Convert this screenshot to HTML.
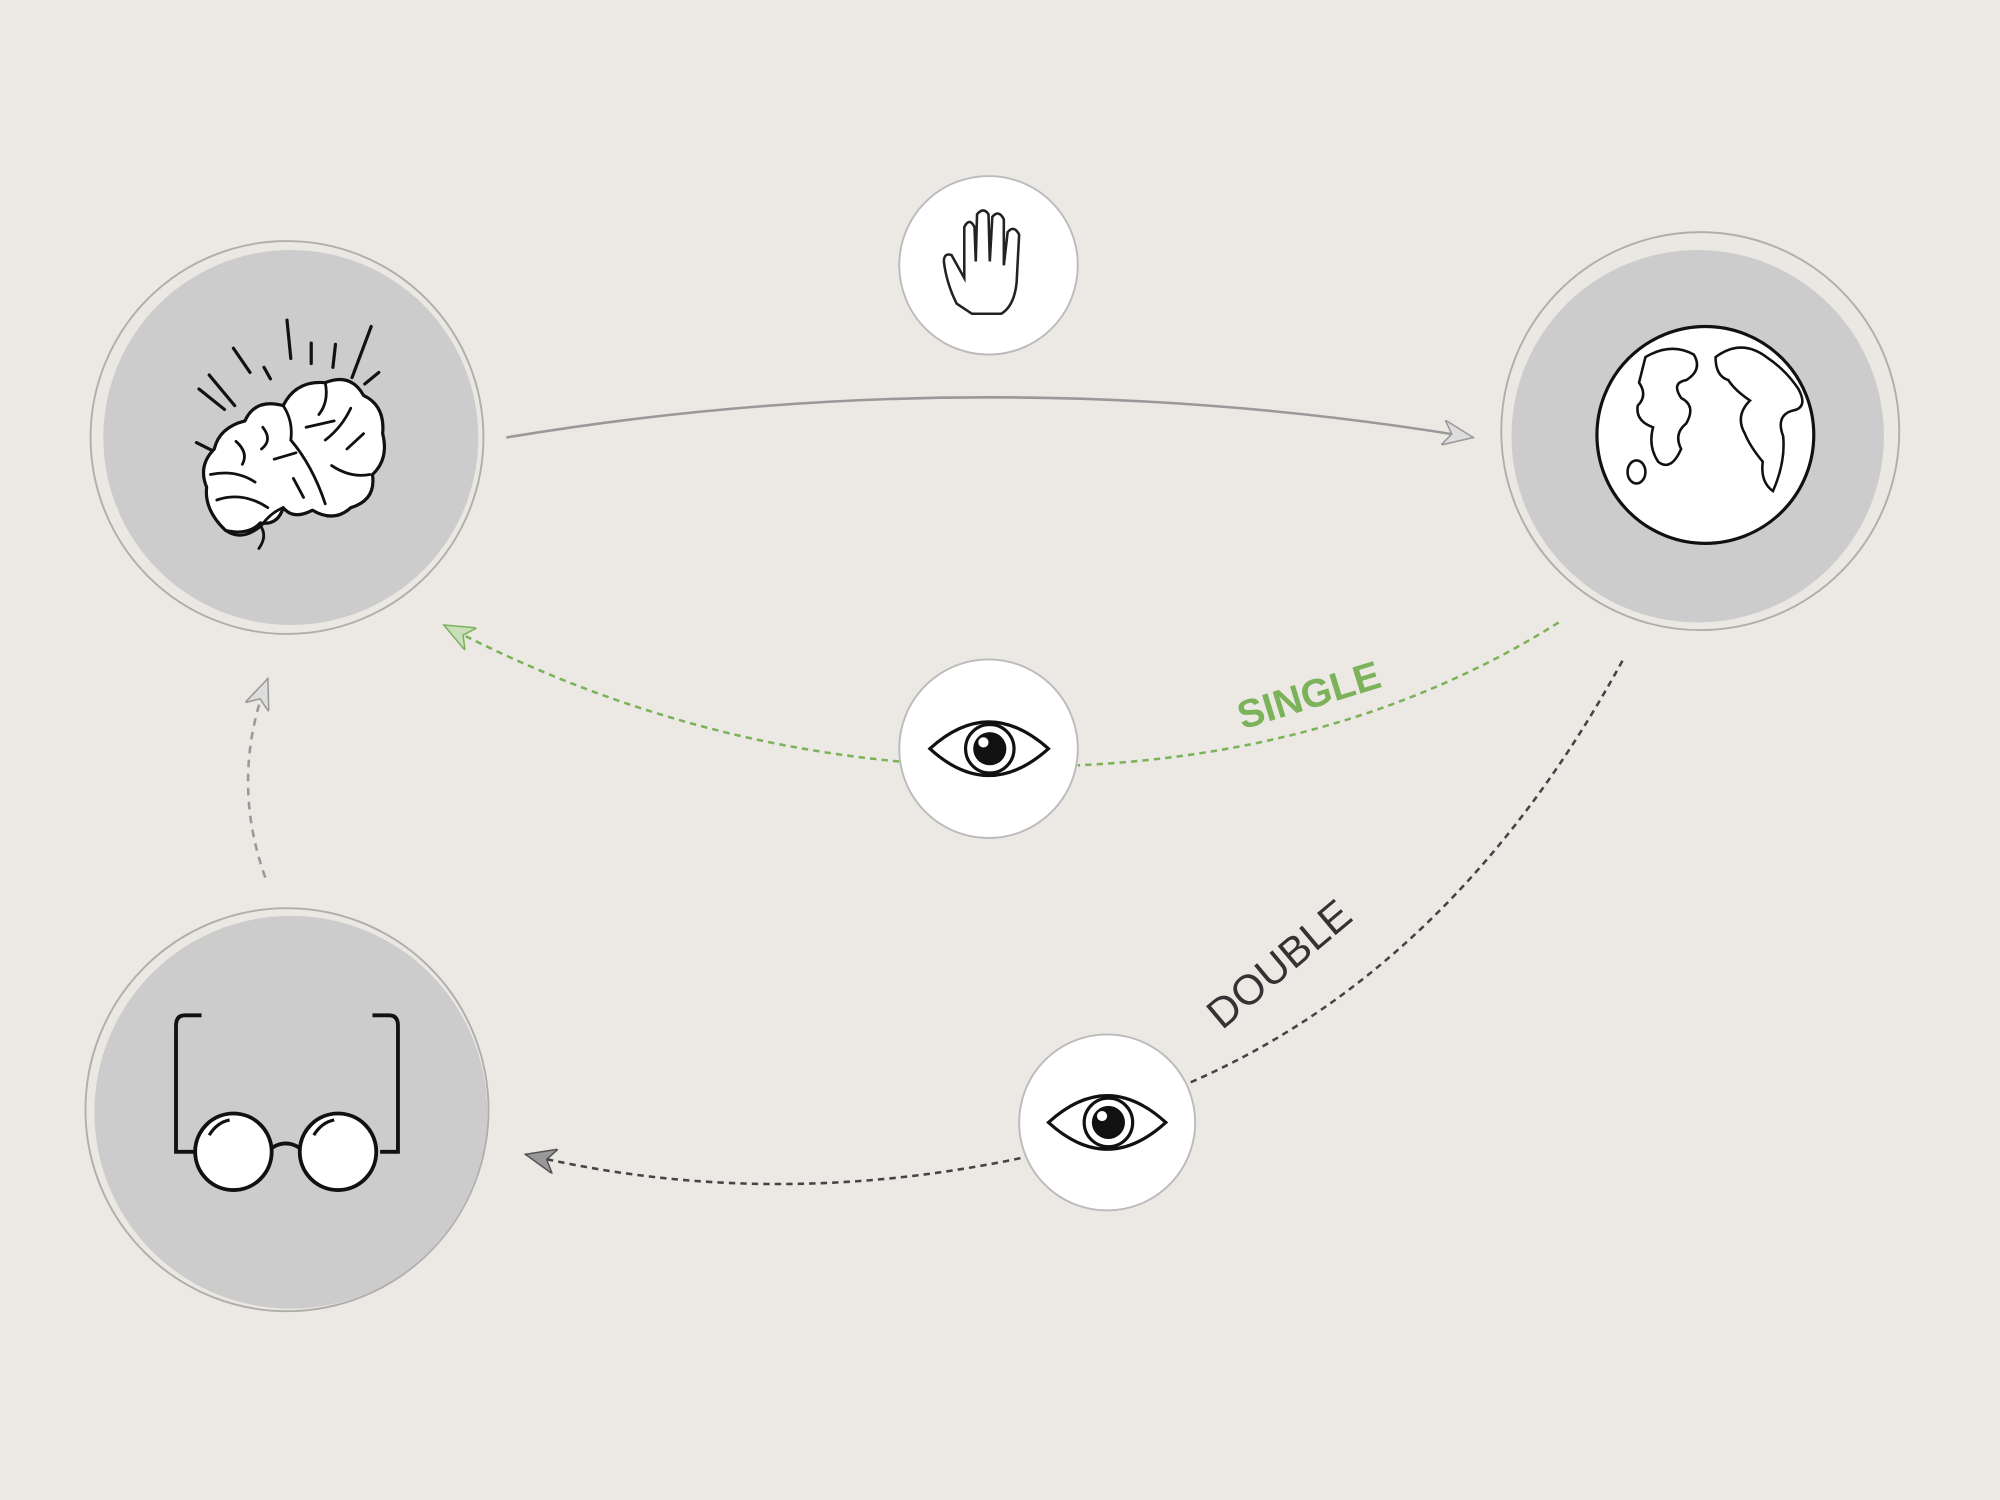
<!DOCTYPE html>
<html><head><meta charset="utf-8"><style>
html,body{margin:0;padding:0;background:#ece9e5;}
svg{display:block;}
</style></head><body>
<svg width="2000" height="1500" viewBox="0 0 1568 1176" xmlns="http://www.w3.org/2000/svg">
<defs>
<marker id="agr" markerWidth="26" markerHeight="20" refX="24" refY="10" orient="auto" markerUnits="userSpaceOnUse"><path d="M0,0 L24,10 L0,20 L7,10 Z" fill="#c9dfba" stroke="#7cb25a" stroke-width="1.2"/></marker>
<marker id="ad" markerWidth="26" markerHeight="20" refX="24" refY="10" orient="auto" markerUnits="userSpaceOnUse"><path d="M0,0 L24,10 L0,20 L7,10 Z" fill="#999" stroke="#555" stroke-width="1.2"/></marker>
<marker id="ab" markerWidth="26" markerHeight="20" refX="24" refY="10" orient="auto" markerUnits="userSpaceOnUse"><path d="M0,0 L24,10 L0,20 L7,10 Z" fill="#ddd" stroke="#999" stroke-width="1.2"/></marker>
</defs>
<rect width="1568" height="1176" fill="#ece9e5"/>

<circle cx="225" cy="343" r="154" fill="#ebe8e3" stroke="#b0aeab" stroke-width="1.5"/>
<circle cx="228" cy="343" r="147" fill="#cccccc"/>
<circle cx="1333" cy="338" r="156" fill="#ebe8e3" stroke="#b0aeab" stroke-width="1.5"/>
<circle cx="1331" cy="342" r="146" fill="#cccccc"/>
<circle cx="225" cy="870" r="158" fill="#ebe8e3" stroke="#b0aeab" stroke-width="1.5"/>
<circle cx="228" cy="872" r="154" fill="#cccccc"/>

<path d="M397,343 Q775,280 1155,343" fill="none" stroke="#999" stroke-width="2" marker-end="url(#ab)"/>
<path d="M1222,488 Q1060,590 845,600" fill="none" stroke="#7cb25a" stroke-width="2" stroke-dasharray="5,4"/>
<path d="M705,597 Q520,580 348,490" fill="none" stroke="#7cb25a" stroke-width="2" stroke-dasharray="5,4" marker-end="url(#agr)"/>
<path d="M1272,518 Q1140,760 930,850" fill="none" stroke="#444" stroke-width="2" stroke-dasharray="5,4"/>
<path d="M800,908 Q600,950 412,905" fill="none" stroke="#444" stroke-width="2" stroke-dasharray="5,4" marker-end="url(#ad)"/>
<path d="M208,688 Q180,610 210,532" fill="none" stroke="#999" stroke-width="2" stroke-dasharray="6,5" marker-end="url(#ab)"/>

<text x="0" y="0" transform="translate(974,572) rotate(-17)" font-family="Liberation Sans, sans-serif" font-weight="bold" font-size="31" fill="#7cb25a">SINGLE</text>
<text x="0" y="0" transform="translate(958,808) rotate(-40)" font-family="Liberation Sans, sans-serif" font-size="33" fill="#333">DOUBLE</text>

<circle cx="775" cy="208" r="70" fill="#fff" stroke="#bbb" stroke-width="1.5"/>
<circle cx="775" cy="587" r="70" fill="#fff" stroke="#bbb" stroke-width="1.5"/>
<circle cx="868" cy="880" r="69" fill="#fff" stroke="#bbb" stroke-width="1.5"/>

<path d="M750,238 Q742,222 740,205 Q740,198 746,200 L756,218 L756,178 Q760,170 764,178 L765,205 L766,168 Q771,162 775,168 L776,205 L778,170 Q783,164 787,172 L787,208 L790,182 Q795,176 799,184 L797,222 Q795,240 785,246 L762,246 Z" fill="none" stroke="#222" stroke-width="2"/>

<g stroke="#111" stroke-width="2.5" fill="none">
<path d="M729,587 Q775,545 822,587 Q775,629 729,587 Z" fill="#fff"/>
<circle cx="776" cy="587" r="19" fill="#fff"/>
<path d="M822,880 Q868,838 914,880 Q868,922 822,880 Z" fill="#fff"/>
<circle cx="869" cy="880" r="19" fill="#fff"/>
</g>
<circle cx="776" cy="587" r="13" fill="#111"/><circle cx="771" cy="582" r="4" fill="#fff"/>
<circle cx="869" cy="880" r="13" fill="#111"/><circle cx="864" cy="875" r="4" fill="#fff"/>

<g stroke="#111" stroke-width="3" fill="none">
<path d="M158,796 L145,796 Q138,796 138,804 L138,903 L152,903"/>
<path d="M292,796 L305,796 Q312,796 312,804 L312,903 L298,903"/>
<circle cx="183" cy="903" r="30" fill="#fff"/>
<circle cx="265" cy="903" r="30" fill="#fff"/>
<path d="M213,900 Q224,893 235,900"/>
<path d="M164,890 Q170,880 180,878" stroke-width="2.5"/>
<path d="M246,890 Q252,880 262,878" stroke-width="2.5"/>
</g>

<circle cx="1337" cy="341" r="85" fill="#fff" stroke="#111" stroke-width="2.5"/>
<g fill="none" stroke="#111" stroke-width="2">
<path d="M1290,280 Q1310,268 1328,278 Q1335,290 1322,298 Q1310,300 1318,312 Q1330,318 1322,332 Q1312,340 1318,352 Q1310,370 1300,362 Q1292,350 1296,335 Q1282,330 1284,318 Q1292,310 1285,300 Z"/>
<path d="M1345,280 Q1365,265 1385,280 Q1400,290 1410,305 Q1418,320 1405,322 Q1392,326 1398,342 Q1400,362 1390,385 Q1380,378 1382,362 Q1372,350 1368,340 Q1360,326 1372,314 Q1360,306 1355,298 Q1345,295 1345,280 Z"/>
<ellipse cx="1283" cy="370" rx="7" ry="9"/>
</g>

<g stroke="#111" stroke-width="2.5" fill="none" stroke-linecap="round">
<line x1="196" y1="344" x2="204" y2="353"/>
<line x1="154" y1="347" x2="168" y2="354"/>
<line x1="156" y1="305" x2="176" y2="321"/>
<line x1="164" y1="294" x2="184" y2="318"/>
<line x1="183" y1="273" x2="196" y2="292"/>
<line x1="207" y1="288" x2="212" y2="297"/>
<line x1="225" y1="251" x2="228" y2="281"/>
<line x1="244" y1="269" x2="244" y2="285"/>
<line x1="263" y1="270" x2="261" y2="288"/>
<line x1="291" y1="256" x2="276" y2="296"/>
<line x1="297" y1="292" x2="286" y2="301"/>
</g>
<g stroke="#111" stroke-width="2.5" fill="#fff" stroke-linejoin="round">
<path d="M177,416 Q160,400 162,382 Q155,365 168,352 Q172,335 192,330 Q200,312 222,318 Q232,298 255,300 Q275,292 285,310 Q302,318 300,340 Q305,360 292,372 Q295,392 275,398 Q262,410 245,400 Q230,408 222,398 Q218,412 204,410 Q195,420 177,416 Z"/>
</g>
<g stroke="#111" stroke-width="2.2" fill="none" stroke-linecap="round">
<path d="M177,416 Q190,425 205,412 Q212,402 222,398"/>
<path d="M204,412 Q210,420 203,430"/>
<path d="M165,372 Q185,368 200,378"/>
<path d="M170,392 Q190,385 210,398"/>
<path d="M185,346 Q195,355 190,364"/>
<path d="M206,335 Q214,345 205,352"/>
<path d="M222,318 Q230,330 228,345"/>
<path d="M228,345 Q245,365 255,395"/>
<path d="M255,300 Q258,315 250,325"/>
<path d="M240,335 L262,330"/>
<path d="M275,320 Q268,335 255,345"/>
<path d="M285,340 L272,352"/>
<path d="M260,365 Q275,375 290,372"/>
<path d="M215,360 L232,355"/>
<path d="M230,375 L238,390"/>
</g>
</svg>
</body></html>
